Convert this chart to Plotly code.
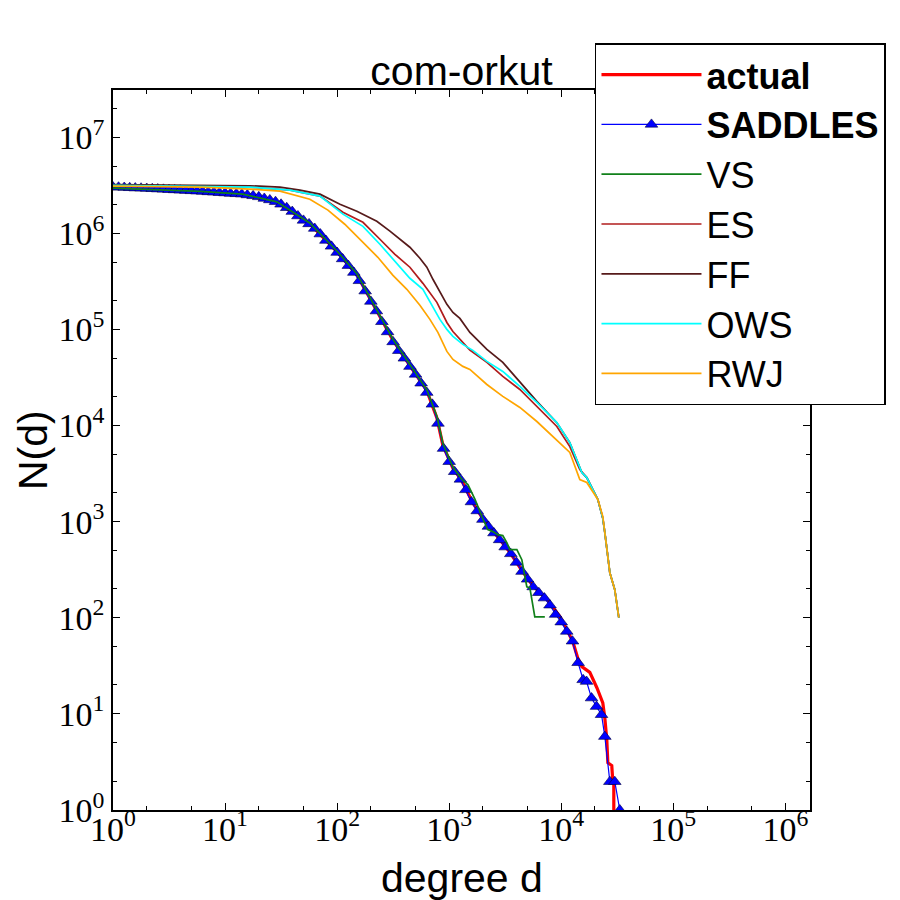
import plotly.graph_objects as go

# degree distribution N(d) for com-orkut

actual_deg = [1, 6, 14.4, 29, 57, 100, 150, 226, 315, 446, 632, 777, 879, 1080, 1300,
              1600, 2000, 2670, 3480, 4540, 5580, 7450, 9720, 11200, 12700, 14060, 15280,
              17990, 20800, 23500, 24500, 25500, 26060, 28250, 28850, 29450, 29450]
actual_n = [3.02e6, 2.74e6, 2.55e6, 2.1e6, 1.26e6, 6.4e5, 3.7e5, 1.55e5, 7.7e4, 4.2e4,
            2.3e4, 1.2e4, 6.2e3, 3.6e3, 2.65e3, 1.62e3, 1.07e3, 710, 480, 300, 215, 156,
            103, 76, 56, 38, 31, 27, 18.7, 13, 9, 5.4, 3.1, 2.9, 2.0, 2.0, 0.3]

saddles_deg = [1, 1.12, 1.26, 1.41, 1.58, 1.78, 2.0, 2.24, 2.51, 2.82, 3.16, 3.55, 3.98, 4.47,
               5.01, 5.62, 6.31, 7.08, 7.94, 8.91,
               10, 11.2, 12.6, 14.1, 15.8, 17.8, 20, 22.4, 25.1, 28.2, 31.6, 35.5, 39.8, 44.7,
               50.1, 56.2, 63.1, 70.8, 79.4, 89.1,
               100, 112, 126, 141, 158, 178, 200, 224, 251, 282, 316, 355, 398, 447,
               501, 562, 631, 708, 794, 891,
               1000, 1120, 1260, 1410, 1580, 1780, 2000, 2240, 2510, 2820, 3160, 3550, 3980, 4470,
               5010, 5620, 6310, 7080, 7940, 8910,
               10000, 11200, 12600,
               14150, 15690, 16830, 18640, 20650, 22890, 24500, 27150, 30060, 33330]
saddles_n = [3.02e6, 3.01e6, 2.99e6, 2.97e6, 2.95e6, 2.94e6, 2.92e6, 2.90e6, 2.88e6, 2.86e6,
             2.84e6, 2.82e6, 2.80e6, 2.78e6, 2.76e6, 2.74e6, 2.72e6, 2.69e6, 2.67e6, 2.64e6,
             2.62e6, 2.59e6, 2.57e6, 2.55e6, 2.50e6, 2.45e6, 2.39e6, 2.30e6, 2.22e6, 2.13e6,
             2.00e6, 1.84e6, 1.68e6, 1.51e6, 1.36e6, 1.25e6, 1.12e6, 9.8e5, 8.4e5, 7.3e5,
             6.3e5, 5.4e5, 4.6e5, 3.9e5, 3.2e5, 2.5e5, 1.95e5, 1.55e5, 1.20e5, 9.4e4,
             7.4e4, 6.0e4, 5.0e4, 4.1e4, 3.4e4, 2.75e4, 2.2e4, 1.66e4, 1.05e4, 5.75e3,
             4.2e3, 3.3e3, 2.75e3, 2.14e3, 1.6e3, 1.29e3, 1.05e3, 890, 760, 645,
             543, 462, 376, 302, 251, 209, 182, 160, 135, 108,
             90, 72, 57,
             34, 22.6, 21.7, 14.6, 11.9, 9.8, 5.8, 1.97, 1.97, 1.0]

vs_deg = [1, 6, 14.4, 29, 57, 100, 150, 226, 315, 446, 632, 777, 879, 1080, 1300, 1470,
          1700, 1960, 2210, 2450, 2720, 3010, 3270, 3480, 4020, 4450, 4730, 4930, 5250,
          5810, 7140]
vs_n = [2.95e6, 2.72e6, 2.55e6, 2.12e6, 1.28e6, 6.5e5, 3.8e5, 1.6e5, 7.9e4, 4.3e4, 2.35e4,
        1.25e4, 6.5e3, 3.7e3, 2.74e3, 2.43e3, 1.70e3, 1.13e3, 825, 787, 732, 715, 604, 511,
        511, 402, 267, 210, 205, 102, 102]

es_deg = [1, 16.7, 37.9, 57.1, 70.3, 112.7, 170, 241, 328, 446, 583, 777, 954, 1080, 1246,
          1530, 2170, 3010, 4275, 6060, 9140, 11930, 14650, 16900, 21220, 23500, 24500,
          27150, 30060, 32650]
es_n = [3.15e6, 3.02e6, 2.81e6, 2.55e6, 2.43e6, 1.65e6, 1.30e6, 8.66e5, 6.04e5, 4.43e5,
        3.01e5, 1.91e5, 1.18e5, 9.5e4, 7.86e4, 6.1e4, 4.53e4, 3.24e4, 2.37e4, 1.58e4,
        9.77e3, 6.04e3, 3.48e3, 2.87e3, 1.70e3, 1.08e3, 770, 294, 196, 100]

ff_deg = [1, 16.7, 30.9, 46.6, 70.3, 106, 150, 226, 296, 363, 446, 548, 632, 716, 826,
          954, 1080, 1246, 1530, 2170, 3010, 4275, 6060, 9140, 11930, 15280, 16900, 21220,
          23500, 24500, 27150, 30060, 32650]
ff_n = [3.2e6, 3.12e6, 3.02e6, 2.81e6, 2.55e6, 2.0e6, 1.69e6, 1.33e6, 1.05e6, 8.66e5,
        7.15e5, 5.5e5, 4.43e5, 3.32e5, 2.43e5, 1.82e5, 1.50e5, 1.30e5, 9.3e4, 6.19e4,
        4.53e4, 2.81e4, 1.78e4, 1.07e4, 6.65e3, 3.24e3, 2.87e3, 1.70e3, 1.08e3, 770, 294,
        196, 100]

ows_deg = [1, 16.7, 37.9, 57.1, 70.3, 112.7, 170, 241, 328, 446, 583, 701, 826, 954, 1080,
           1325, 1627, 2170, 3010, 4275, 6060, 9140, 11930, 15280, 16900, 21220, 23500,
           24500, 27150, 30060, 32650]
ows_n = [3.15e6, 3.02e6, 2.81e6, 2.55e6, 2.43e6, 1.58e6, 1.18e6, 7.68e5, 5.1e5, 3.4e5,
         2.61e5, 1.78e5, 1.27e5, 1.0e5, 8.45e4, 6.98e4, 6.05e4, 4.64e4, 3.65e4, 2.55e4,
         1.74e4, 1.07e4, 6.65e3, 3.24e3, 2.87e3, 1.70e3, 1.08e3, 770, 294, 196, 100]

rwj_deg = [1, 6, 16.7, 30.9, 57.1, 82.8, 117, 166, 231, 315, 419, 548, 673, 793, 954, 1080,
           1325, 1530, 2170, 3010, 4275, 6060, 8420, 11930, 14650, 16900, 21220, 23500,
           24500, 27150, 30060, 32650]
rwj_n = [3.09e6, 3.02e6, 2.87e6, 2.74e6, 2.26e6, 1.74e6, 1.24e6, 8.26e5, 5.62e5, 3.65e5,
         2.61e5, 1.78e5, 1.27e5, 9.3e4, 5.9e4, 4.87e4, 4.12e4, 3.83e4, 2.67e4, 2.01e4,
         1.54e4, 1.10e4, 7.67e3, 5.24e3, 2.74e3, 2.55e3, 1.70e3, 1.13e3, 770, 294, 196, 100]

x_ticks = [1, 10, 100, 1000, 10000, 100000, 1000000]
y_ticks = [1, 10, 100, 1000, 10000, 100000, 1000000, 10000000]

serif = "Liberation Serif"
sans = "Liberation Sans"

fig = go.Figure()

fig.add_trace(go.Scatter(x=actual_deg, y=actual_n, mode="lines", name="<b>actual</b>",
                         line=dict(color="#ff0000", width=3.2), legendgroup="a"))
fig.add_trace(go.Scatter(x=saddles_deg, y=saddles_n, mode="lines+markers", name="<b>SADDLES</b>",
                         line=dict(color="#0000ff", width=1.2),
                         marker=dict(symbol="triangle-up", size=11, color="#0000ff",
                                     line=dict(color="#000040", width=0.6)),
                         legendgroup="b"))
others = [
    ("VS", vs_deg, vs_n, "#11801a"),
    ("ES", es_deg, es_n, "#b01c1c"),
    ("FF", ff_deg, ff_n, "#561a1a"),
    ("OWS", ows_deg, ows_n, "#00ffff"),
    ("RWJ", rwj_deg, rwj_n, "#ffa500"),
]
for name, xs, ys, col in others:
    fig.add_trace(go.Scatter(x=xs, y=ys, mode="lines", name=name,
                             line=dict(color=col, width=1.7), legendgroup=name))

axis_common = dict(
    type="log", showgrid=False, zeroline=False,
    showline=True, linecolor="black", linewidth=1.5, mirror="ticks",
    ticks="inside", ticklen=7, tickwidth=1, tickcolor="black",
    minor=dict(ticks="inside", ticklen=4, tickwidth=1, tickcolor="black", showgrid=False),
    tickfont=dict(family=serif, size=34, color="black"),
)

fig.update_xaxes(range=[0, 6.22], tickvals=x_ticks, ticklabelstandoff=-12,
                 ticktext=["10<sup>%d</sup>" % i for i in range(7)], **axis_common)
fig.update_yaxes(range=[0, 7.49], tickvals=y_ticks,
                 ticktext=["10<sup>%d</sup>" % i for i in range(8)], **axis_common)

# axis labels placed by hand, like matplotlib's labelpad
label_font = dict(family=sans, size=41, color="black")
fig.add_annotation(text="degree d", x=0.5, y=-0.0944, xref="paper", yref="paper",
                   xanchor="center", yanchor="middle", showarrow=False, font=label_font)
fig.add_annotation(text="N(d)", x=-0.1148, y=0.5, xref="paper", yref="paper",
                   xanchor="center", yanchor="middle", textangle=-90, showarrow=False,
                   font=label_font)

# the page body has an 8px margin, so the margins are shifted by 8
fig.update_layout(
    width=900, height=900,
    margin=dict(l=105, r=98, t=82, b=98, autoexpand=False),
    paper_bgcolor="white", plot_bgcolor="white",
    title=dict(text="com-orkut", x=0.5, xref="paper", xanchor="center",
               y=0.93, yref="container", yanchor="middle",
               font=dict(family=sans, size=41, color="black")),
    legend=dict(x=0.6915, y=1.065, xanchor="left", yanchor="top",
                bgcolor="white", bordercolor="black", borderwidth=1.5,
                font=dict(family=sans, size=36, color="black"),
                tracegroupgap=13.5, itemwidth=100, traceorder="normal"),
    showlegend=True,
)

fig.write_html("out.html")
